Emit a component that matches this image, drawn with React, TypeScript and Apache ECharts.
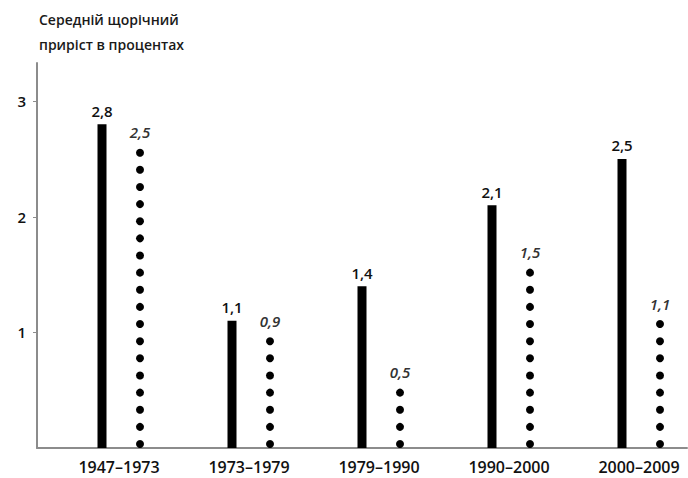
import React, { useEffect, useRef } from "react";
import * as echarts from "echarts";

const categories = ["1947–1973", "1973–1979", "1979–1990", "1990–2000", "2000–2009"];
const solidValues = [2.8, 1.1, 1.4, 2.1, 2.5];
const dottedValues = [2.5, 0.9, 0.5, 1.5, 1.1];
const yTicks = [1, 2, 3];
const titleLines = ["Середній щорічний", "приріст в процентах"];

const FONT = "'Open Sans', 'DejaVu Sans', sans-serif";
const fmt = (v: number) => String(v).replace(".", ",");

export default function App() {
  const ref = useRef<HTMLDivElement>(null);
  useEffect(() => {
    document.body.style.margin = "0";
    const chart = echarts.init(ref.current!, null, { renderer: "svg" });
    chart.setOption({
      animation: false,
      backgroundColor: "#ffffff",
      textStyle: { fontFamily: FONT },
      title: {
        text: titleLines.join("\n"),
        left: 34,
        top: 2,
        textStyle: { fontFamily: FONT, fontSize: 14, fontWeight: 600, color: "#1a1a1a", lineHeight: 25 },
      },
      grid: { left: 37, right: 1, top: 63, bottom: 30, containLabel: false },
      xAxis: {
        type: "category",
        data: categories,
        axisLine: { show: true, lineStyle: { color: "#8c8c8c", width: 2 } },
        axisTick: { show: false },
        axisLabel: {
          color: "#111",
          fontSize: 16,
          fontWeight: 600,
          fontFamily: FONT,
          margin: 11,
          padding: [0, 0, 0, 34],
          interval: 0,
        },
      },
      yAxis: {
        type: "value",
        min: 0,
        max: 3.33,
        interval: 1,
        splitLine: { show: false },
        axisLine: { show: true, lineStyle: { color: "#8c8c8c", width: 2 } },
        axisTick: { show: true, length: 4, customValues: yTicks, lineStyle: { color: "#8c8c8c", width: 1 } },
        axisLabel: {
          customValues: yTicks,
          color: "#111",
          fontSize: 15,
          fontWeight: 600,
          fontFamily: FONT,
          margin: 11,
          formatter: (v: number) => (yTicks.indexOf(v) >= 0 ? String(v) : ""),
        },
      },
      series: [
        {
          type: "bar",
          data: solidValues,
          barWidth: 9,
          itemStyle: { color: "#000" },
          label: {
            show: true,
            position: "top",
            distance: 6,
            color: "#111",
            fontSize: 15,
            fontWeight: 600,
            fontFamily: FONT,
            formatter: (p: any) => fmt(p.value),
          },
        },
        {
          type: "pictorialBar",
          data: dottedValues,
          symbol: "circle",
          symbolSize: [8, 8],
          symbolRepeat: true,
          symbolMargin: 4.7,
          symbolOffset: [38, 0],
          barWidth: 8,
          itemStyle: { color: "#000" },
          label: {
            show: true,
            position: "top",
            distance: 9,
            offset: [38, 0],
            color: "#333",
            fontSize: 15,
            fontWeight: 600,
            fontStyle: "italic",
            fontFamily: FONT,
            formatter: (p: any) => fmt(p.value),
          },
        },
      ],
    });
    return () => chart.dispose();
  }, []);
  return <div ref={ref} style={{ position: "absolute", left: 0, top: 0, width: 688, height: 478 }} />;
}
